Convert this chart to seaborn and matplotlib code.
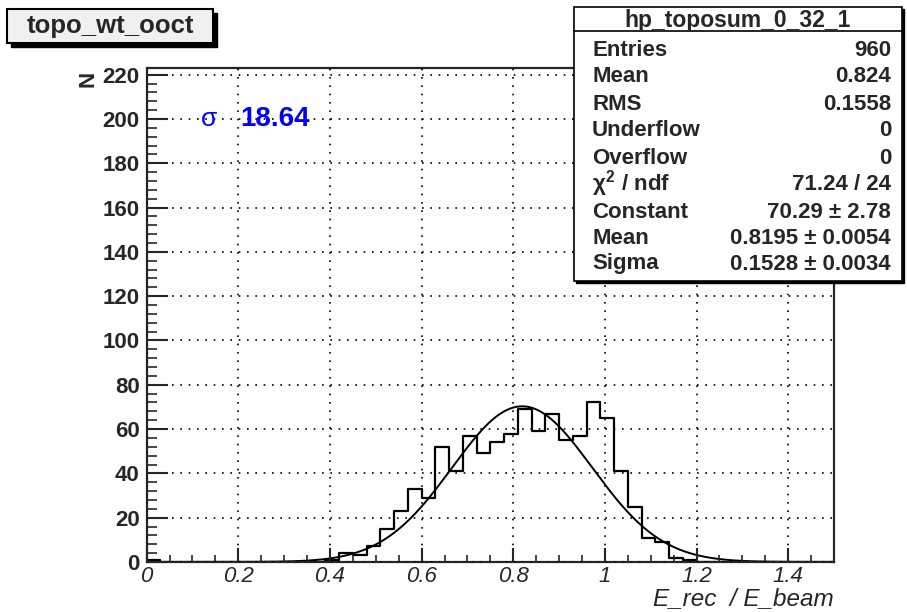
import numpy as np
import pandas as pd
import seaborn as sns
import matplotlib.pyplot as plt
from matplotlib.patches import Rectangle
from matplotlib.ticker import MultipleLocator

# histogram: 50 bins of width 0.03 from 0 to 1.5
bin_width = 0.03
x_range = (0.0, 1.5)
counts = [1, 0, 0, 0, 0, 0, 0, 0, 0, 0,
          0, 0, 0, 1, 4, 3, 7, 15, 23, 33,
          29, 52, 41, 57, 49, 54, 58, 69, 59, 67,
          55, 57, 72, 65, 41, 25, 11, 9, 2, 1,
          0, 0, 0, 0, 0, 0, 0, 0, 0, 0]

# gaus fit parameters (from the stats box)
fit_const = 70.29
fit_mean = 0.8195
fit_sigma = 0.1528

stat_labels = ["Entries", "Mean", "RMS", "Underflow", "Overflow",
               r"$\chi^2$ / ndf", "Constant", "Mean", "Sigma"]
stat_values = ["960", "0.824", "0.1558", "0", "0", "71.24 / 24",
               "70.29 ± 2.78", "0.8195 ± 0.0054", "0.1528 ± 0.0034"]

sns.set_style("ticks")
plt.rcParams['font.family'] = ['Liberation Sans', 'DejaVu Sans']
plt.rcParams['mathtext.fontset'] = 'custom'
plt.rcParams['mathtext.rm'] = 'Liberation Sans:bold'
plt.rcParams['mathtext.it'] = 'Liberation Sans:bold'

fig = plt.figure(figsize=(9.07, 6.12), dpi=100)
ax = fig.add_axes([0.1617, 0.0817, 0.9195 - 0.1617, 0.8889 - 0.0817])

centers = x_range[0] + bin_width * (np.arange(len(counts)) + 0.5)
df = pd.DataFrame({"x": centers, "n": counts})
sns.histplot(data=df, x="x", weights="n", binwidth=bin_width, binrange=x_range,
             element="step", fill=False, color="black", linewidth=1.6, ax=ax)

xf = np.linspace(0, 1.5, 400)
yf = fit_const * np.exp(-0.5 * ((xf - fit_mean) / fit_sigma) ** 2)
sns.lineplot(x=xf, y=yf, color="black", linewidth=1.4, ax=ax)

ax.set_xlim(0, 1.5)
ax.set_ylim(0, 223)
ax.xaxis.set_major_locator(MultipleLocator(0.2))
ax.xaxis.set_minor_locator(MultipleLocator(0.05))
ax.yaxis.set_major_locator(MultipleLocator(20))
ax.yaxis.set_minor_locator(MultipleLocator(4))
ax.set_xticks(np.arange(0, 1.41, 0.2))
ax.set_xticklabels(["0", "0.2", "0.4", "0.6", "0.8", "1", "1.2", "1.4"],
                   fontsize=16, style="italic")
ax.tick_params(axis="x", which="major", direction="in", length=10, width=1.5, pad=3)
ax.tick_params(axis="x", which="minor", direction="in", length=5, width=1.2)
ax.tick_params(axis="y", which="major", direction="in", length=15, width=1.5,
               labelsize=16, pad=5)
ax.tick_params(axis="y", which="minor", direction="in", length=7.5, width=1.2)
for lab in ax.get_yticklabels():
    lab.set_fontweight("bold")
for s in ax.spines.values():
    s.set_linewidth(1.6)
ax.grid(True, which="major", color="black", linestyle=(0, (1, 4)), linewidth=1.2)
ax.set_axisbelow(False)
ax.set_xlabel("")
ax.set_ylabel("")

# axis titles
fig.text(0.9195, 0.012, "E_rec  / E_beam", ha="right", va="baseline",
         fontsize=17.5, style="italic")
fig.text(0.097, 0.885, "N", ha="center", va="top", rotation=90,
         fontsize=16, fontweight="bold")

# sigma annotation
ax.text(0.135, 197, "σ", color="blue", fontsize=19, ha="center", va="baseline")
ax.text(0.205, 197, "18.64", color="blue", fontsize=20, fontweight="bold",
        ha="left", va="baseline")

# title box
W, H = 907, 612
def px(x, y):
    return x / W, 1 - y / H

x0, y0 = px(7, 43)
x1, y1 = px(213, 9)
fig.patches.append(Rectangle((x0 + 4 / W, y0 - 4 / H), x1 - x0, y1 - y0,
                             transform=fig.transFigure, color="black", zorder=1))
fig.patches.append(Rectangle((x0, y0), x1 - x0, y1 - y0, transform=fig.transFigure,
                             facecolor="#f0f0f0", edgecolor="black", lw=1.5, zorder=2))
fig.text((x0 + x1) / 2, (y0 + y1) / 2, "topo_wt_ooct", ha="center", va="center",
         fontsize=18.5, fontweight="bold", zorder=3)

# stats box
sx0, sy0 = px(574, 281)
sx1, sy1 = px(902, 7)
fig.patches.append(Rectangle((sx0 + 2 / W, sy0 - 2 / H), sx1 - sx0, sy1 - sy0,
                             transform=fig.transFigure, color="black", zorder=5))
fig.patches.append(Rectangle((sx0, sy0), sx1 - sx0, sy1 - sy0, transform=fig.transFigure,
                             facecolor="white", edgecolor="black", lw=1.2, zorder=6))
lx, ly = px(574, 31)
fig.lines.append(plt.Line2D([sx0, sx1], [ly, ly], transform=fig.transFigure,
                            color="black", lw=1.2, zorder=7))
fig.text((sx0 + sx1) / 2, px(0, 20)[1], "hp_toposum_0_32_1", ha="center",
         va="center", fontsize=16.5, fontweight="bold", zorder=8)
row_y = [50, 77, 104, 131, 158, 184, 212, 239, 264]
for lab, val, yy in zip(stat_labels, stat_values, row_y):
    fig.text(px(592, 0)[0], px(0, yy)[1], lab, ha="left", va="center",
             fontsize=16, fontweight="bold", zorder=8)
    fig.text(px(891, 0)[0], px(0, yy)[1], val, ha="right", va="center",
             fontsize=16, fontweight="bold", zorder=8)

fig.savefig("out.png", dpi=100)
